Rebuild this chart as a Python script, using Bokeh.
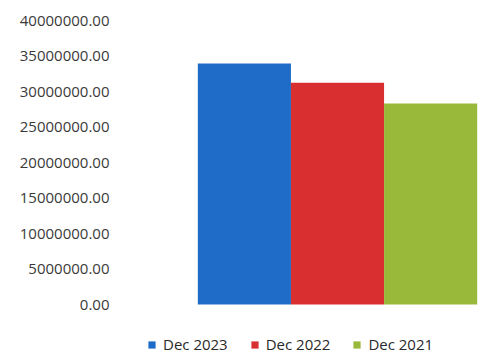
from bokeh.plotting import figure
from bokeh.models import ColumnDataSource, Range1d, PrintfTickFormatter, Legend, LegendItem, FixedTicker
from bokeh.embed import file_html
from bokeh.resources import INLINE

periods = ["Dec 2023", "Dec 2022", "Dec 2021"]
values = [33950000, 31250000, 28300000]
colors = ["#1E6CC8", "#D92F30", "#98B93A"]
y_ticks = [0, 5000000, 10000000, 15000000, 20000000, 25000000, 30000000, 35000000, 40000000]

src = ColumnDataSource(dict(x=list(range(len(periods))), top=values, color=colors, period=periods))

p = figure(width=491, height=360, output_backend="svg", toolbar_location=None,
           x_range=Range1d(-1.384, 2.60), y_range=Range1d(-7887000, 42113000),
           min_border_left=115, min_border_right=5, min_border_top=5, min_border_bottom=0)
r = p.vbar(x="x", top="top", width=1.0, color="color", line_color=None, source=src)

p.xaxis.visible = False
p.grid.visible = False
p.outline_line_color = None
p.yaxis.ticker = FixedTicker(ticks=y_ticks)
p.yaxis.formatter = PrintfTickFormatter(format="%.2f")
p.yaxis.axis_line_color = None
p.yaxis.major_tick_line_color = None
p.yaxis.minor_tick_line_color = None
p.yaxis.major_tick_out = 0
p.yaxis.major_label_standoff = 6
p.yaxis.major_label_text_font = "Open Sans"
p.yaxis.major_label_text_font_size = "15px"
p.yaxis.major_label_text_color = "#3a3a3a"

items = [LegendItem(label=periods[i], renderers=[r], index=i) for i in range(len(periods))]
legend = Legend(items=items, orientation="horizontal", location=(32, 6),
                glyph_width=9, glyph_height=9, label_standoff=7, spacing=22,
                label_text_font="Open Sans", label_text_font_size="15px",
                label_text_color="#2a2a2a", border_line_color=None,
                background_fill_alpha=0, padding=0, margin=0)
p.add_layout(legend)

open("out.html", "w").write(file_html(p, INLINE))
